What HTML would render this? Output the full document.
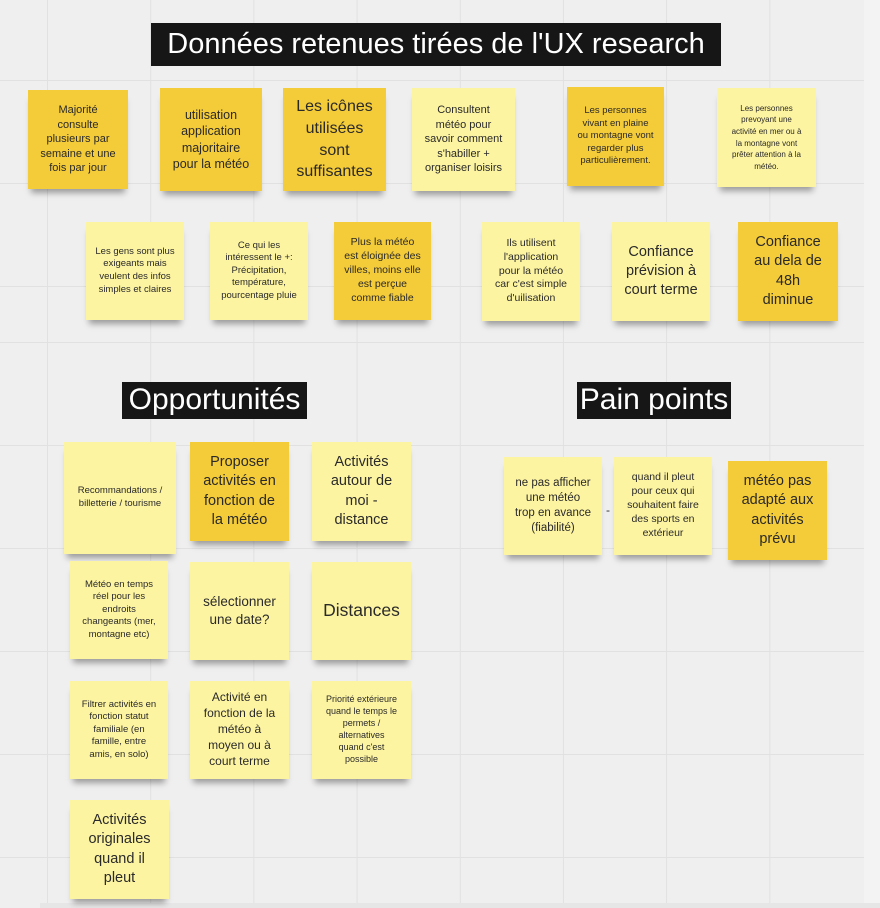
<!DOCTYPE html>
<html><head><meta charset="utf-8">
<style>
html,body{margin:0;padding:0;}
body{width:880px;height:908px;position:relative;overflow:hidden;background:#efefef;font-family:"Liberation Sans",sans-serif;}
.g1{position:absolute;left:0;top:0;width:864px;height:340px;
background-image:linear-gradient(to right,#e1e1e1 1px,transparent 1px),linear-gradient(to bottom,#e1e1e1 1px,transparent 1px);
background-size:103.2px 103px;background-position:47px 80px;}
.g2{position:absolute;left:0;top:340px;width:864px;height:563px;
background-image:linear-gradient(to right,#e1e1e1 1px,transparent 1px),linear-gradient(to bottom,#e1e1e1 1px,transparent 1px);
background-size:103.2px 103px;background-position:47px 2px;}
.edge{position:absolute;left:864px;top:0;width:16px;height:908px;background:#f3f3f3;}
.bedge{position:absolute;left:40px;top:903px;width:840px;height:5px;background:#e6e6e6;}
.t{position:absolute;background:#161616;color:#fff;white-space:nowrap;text-align:center;font-size:29px;line-height:43px;overflow:hidden;}
.n{position:absolute;display:flex;align-items:center;justify-content:center;text-align:center;color:#2a2a2a;box-sizing:border-box;line-height:1.32;white-space:nowrap;box-shadow:0 7px 6px -3px rgba(0,0,0,0.35);}
.l{background:#fdf4a1;}
.d{background:#f4cb38;}
</style></head><body>
<div class="g1"></div><div class="g2"></div><div class="edge"></div><div class="bedge"></div>

<div class="t" style="left:151px;top:23px;width:570px;height:43px;">Données retenues tirées de l'UX research</div>
<div class="t" style="left:122px;top:382px;width:185px;height:37px;line-height:36px;font-size:30px;">Opportunités</div>
<div class="t" style="left:577px;top:382px;width:154px;height:37px;line-height:36px;font-size:30px;">Pain points</div>

<div class="n d" style="left:28px;top:90px;width:100px;height:99px;font-size:11px;">Majorité<br>consulte<br>plusieurs par<br>semaine et une<br>fois par jour</div>
<div class="n d" style="left:160px;top:88px;width:102px;height:103px;font-size:12.5px;">utilisation<br>application<br>majoritaire<br>pour la météo</div>
<div class="n d" style="left:283px;top:88px;width:103px;height:103px;font-size:16px;line-height:1.35;">Les icônes<br>utilisées<br>sont<br>suffisantes</div>
<div class="n l" style="left:412px;top:88px;width:103px;height:103px;font-size:11px;">Consultent<br>météo pour<br>savoir comment<br>s'habiller +<br>organiser loisirs</div>
<div class="n d" style="left:567px;top:87px;width:97px;height:99px;font-size:9.5px;">Les personnes<br>vivant en plaine<br>ou montagne vont<br>regarder plus<br>particulièrement.</div>
<div class="n l" style="left:717px;top:88px;width:99px;height:99px;font-size:8px;line-height:1.45;">Les personnes<br>prevoyant une<br>activité en mer ou à<br>la montagne vont<br>prêter attention à la<br>météo.</div>

<div class="n l" style="left:86px;top:222px;width:98px;height:98px;font-size:9.5px;">Les gens sont plus<br>exigeants mais<br>veulent des infos<br>simples et claires</div>
<div class="n l" style="left:210px;top:222px;width:98px;height:98px;font-size:9.5px;">Ce qui les<br>intéressent le +:<br>Précipitation,<br>température,<br>pourcentage pluie</div>
<div class="n d" style="left:334px;top:222px;width:97px;height:98px;font-size:10.5px;">Plus la météo<br>est éloignée des<br>villes, moins elle<br>est perçue<br>comme fiable</div>
<div class="n l" style="left:482px;top:222px;width:98px;height:99px;font-size:10.5px;">Ils utilisent<br>l'application<br>pour la météo<br>car c'est simple<br>d'uilisation</div>
<div class="n l" style="left:612px;top:222px;width:98px;height:99px;font-size:14.5px;">Confiance<br>prévision à<br>court terme</div>
<div class="n d" style="left:738px;top:222px;width:100px;height:99px;font-size:14.5px;">Confiance<br>au dela de<br>48h<br>diminue</div>

<div class="n l" style="left:64px;top:442px;width:112px;height:112px;font-size:9.5px;">Recommandations /<br>billetterie / tourisme</div>
<div class="n d" style="left:190px;top:442px;width:99px;height:99px;font-size:14.5px;">Proposer<br>activités en<br>fonction de<br>la météo</div>
<div class="n l" style="left:312px;top:442px;width:99px;height:99px;font-size:14.5px;">Activités<br>autour de<br>moi -<br>distance</div>
<div class="n l" style="left:70px;top:561px;width:98px;height:98px;font-size:9.5px;">Météo en temps<br>réel pour les<br>endroits<br>changeants (mer,<br>montagne etc)</div>
<div class="n l" style="left:190px;top:562px;width:99px;height:98px;font-size:13.5px;">sélectionner<br>une date?</div>
<div class="n l" style="left:312px;top:562px;width:99px;height:98px;font-size:17.5px;">Distances</div>
<div class="n l" style="left:70px;top:681px;width:98px;height:98px;font-size:9.5px;">Filtrer activités en<br>fonction statut<br>familiale (en<br>famille, entre<br>amis, en solo)</div>
<div class="n l" style="left:190px;top:681px;width:99px;height:98px;font-size:12px;">Activité en<br>fonction de la<br>météo à<br>moyen ou à<br>court terme</div>
<div class="n l" style="left:312px;top:681px;width:99px;height:98px;font-size:9px;">Priorité extérieure<br>quand le temps le<br>permets /<br>alternatives<br>quand c'est<br>possible</div>
<div class="n l" style="left:70px;top:800px;width:99px;height:99px;font-size:14.5px;">Activités<br>originales<br>quand il<br>pleut</div>

<div class="n l" style="left:504px;top:457px;width:98px;height:98px;font-size:11.5px;">ne pas afficher<br>une météo<br>trop en avance<br>(fiabilité)</div>
<div style="position:absolute;left:606px;top:503px;font-size:12px;color:#333;">-</div>
<div class="n l" style="left:614px;top:457px;width:98px;height:98px;font-size:10.5px;">quand il pleut<br>pour ceux qui<br>souhaitent faire<br>des sports en<br>extérieur</div>
<div class="n d" style="left:728px;top:461px;width:99px;height:99px;font-size:14.5px;">météo pas<br>adapté aux<br>activités<br>prévu</div>
</body></html>
